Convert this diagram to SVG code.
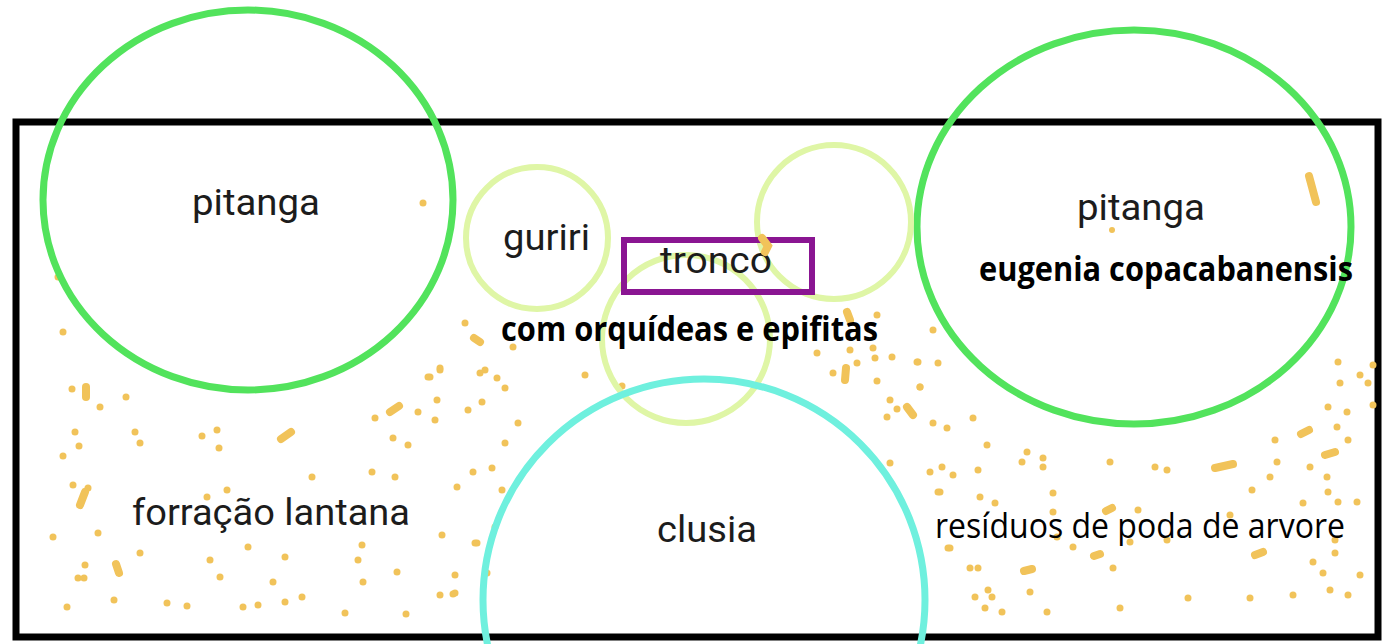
<svg xmlns="http://www.w3.org/2000/svg" width="1388" height="644" viewBox="0 0 1388 644">
<style>
.bed{fill:none;stroke:#000;stroke-width:7}
.pit{fill:none;stroke:#52e35c;stroke-width:7}
.pale{fill:none;stroke:#dff6a6;stroke-width:6}
.clu{fill:none;stroke:#6ff0de;stroke-width:7}
.tr{fill:none;stroke:#8a1592;stroke-width:6}
.lbl{font-family:Roboto,"Liberation Sans",sans-serif;font-size:36px;fill:#1c1c1c}
.cal{font-family:"Open Sans","Liberation Sans",sans-serif;font-size:34px;fill:#000}
.bold{font-family:"Open Sans","Liberation Sans",sans-serif;font-size:34px;font-weight:bold;fill:#000}
.dots circle{fill:#f1c35a}
.dash{stroke:#f1c35a;stroke-width:8;stroke-linecap:round;fill:none}
</style>
<rect x="0" y="0" width="1388" height="644" fill="#fff"/>
<rect id="bed" class="bed" x="16" y="122" width="1362" height="515"/>
<g id="mulch" class="dots">
<circle cx="72" cy="389" r="3.5"/><circle cx="100" cy="407" r="3.5"/><circle cx="126" cy="397" r="3.5"/><circle cx="75" cy="432" r="3.5"/><circle cx="79" cy="446" r="3.5"/><circle cx="63" cy="456" r="3.5"/><circle cx="135" cy="432" r="3.5"/><circle cx="140" cy="443" r="3.5"/><circle cx="202" cy="436" r="3.5"/><circle cx="217" cy="430" r="3.5"/><circle cx="219" cy="448" r="3.5"/><circle cx="375" cy="418" r="3.5"/><circle cx="418" cy="412" r="3.5"/><circle cx="437" cy="400" r="3.5"/><circle cx="435" cy="420" r="3.5"/><circle cx="430" cy="377" r="3.5"/><circle cx="440" cy="370" r="3.5"/><circle cx="393" cy="438" r="3.5"/><circle cx="408" cy="445" r="3.5"/><circle cx="312" cy="477" r="3.5"/><circle cx="372" cy="472" r="3.5"/><circle cx="395" cy="477" r="3.5"/><circle cx="473" cy="472" r="3.5"/><circle cx="457" cy="487" r="3.5"/><circle cx="468" cy="410" r="3.5"/><circle cx="73" cy="485" r="3.5"/><circle cx="88" cy="488" r="3.5"/><circle cx="207" cy="497" r="3.5"/><circle cx="227" cy="490" r="3.5"/><circle cx="53" cy="537" r="3.5"/><circle cx="98" cy="533" r="3.5"/><circle cx="248" cy="547" r="3.5"/><circle cx="285" cy="557" r="3.5"/><circle cx="442" cy="535" r="3.5"/><circle cx="475" cy="543" r="3.5"/><circle cx="140" cy="553" r="3.5"/><circle cx="210" cy="560" r="3.5"/><circle cx="85" cy="565" r="3.5"/><circle cx="78" cy="578" r="3.5"/><circle cx="84" cy="578" r="3.5"/><circle cx="220" cy="577" r="3.5"/><circle cx="273" cy="582" r="3.5"/><circle cx="358" cy="560" r="3.5"/><circle cx="363" cy="582" r="3.5"/><circle cx="397" cy="572" r="3.5"/><circle cx="455" cy="575" r="3.5"/><circle cx="440" cy="595" r="3.5"/><circle cx="453" cy="594" r="3.5"/><circle cx="67" cy="607" r="3.5"/><circle cx="114" cy="600" r="3.5"/><circle cx="167" cy="603" r="3.5"/><circle cx="187" cy="606" r="3.5"/><circle cx="243" cy="607" r="3.5"/><circle cx="258" cy="605" r="3.5"/><circle cx="285" cy="602" r="3.5"/><circle cx="302" cy="597" r="3.5"/><circle cx="345" cy="613" r="3.5"/><circle cx="406" cy="614" r="3.5"/><circle cx="362" cy="545" r="3.5"/>
<circle cx="423" cy="203" r="3.5"/><circle cx="58" cy="277" r="3.5"/><circle cx="63" cy="332" r="3.5"/><circle cx="465" cy="323" r="3.5"/><circle cx="440" cy="368" r="3.5"/><circle cx="428" cy="377" r="3.5"/>
<circle cx="513" cy="347" r="3.5"/><circle cx="480" cy="373" r="3.5"/><circle cx="485" cy="370" r="3.5"/><circle cx="497" cy="378" r="3.5"/><circle cx="505" cy="388" r="3.5"/><circle cx="482" cy="402" r="3.5"/><circle cx="518" cy="423" r="3.5"/><circle cx="505" cy="443" r="3.5"/><circle cx="492" cy="468" r="3.5"/><circle cx="502" cy="490" r="3.5"/><circle cx="495" cy="527" r="3.5"/><circle cx="477" cy="543" r="3.5"/><circle cx="487" cy="573" r="3.5"/><circle cx="455" cy="593" r="3.5"/><circle cx="585" cy="375" r="3.5"/><circle cx="622" cy="386" r="3.5"/>
<circle cx="877" cy="315" r="3.5"/><circle cx="817" cy="353" r="3.5"/><circle cx="850" cy="350" r="3.5"/><circle cx="873" cy="348" r="3.5"/><circle cx="875" cy="358" r="3.5"/><circle cx="892" cy="357" r="3.5"/><circle cx="917" cy="362" r="3.5"/><circle cx="933" cy="330" r="3.5"/><circle cx="857" cy="363" r="3.5"/><circle cx="833" cy="373" r="3.5"/><circle cx="877" cy="381" r="3.5"/><circle cx="920" cy="387" r="3.5"/><circle cx="890" cy="400" r="3.5"/><circle cx="897" cy="409" r="3.5"/><circle cx="887" cy="417" r="3.5"/><circle cx="933" cy="423" r="3.5"/><circle cx="947" cy="428" r="3.5"/><circle cx="890" cy="463" r="3.5"/><circle cx="930" cy="472" r="3.5"/><circle cx="942" cy="467" r="3.5"/><circle cx="940" cy="492" r="3.5"/><circle cx="948" cy="548" r="3.5"/>
<circle cx="938" cy="363" r="3.5"/><circle cx="973" cy="418" r="3.5"/><circle cx="987" cy="445" r="3.5"/><circle cx="1027" cy="452" r="3.5"/><circle cx="1022" cy="462" r="3.5"/><circle cx="1043" cy="458" r="3.5"/><circle cx="1043" cy="467" r="3.5"/><circle cx="953" cy="475" r="3.5"/><circle cx="978" cy="470" r="3.5"/><circle cx="938" cy="492" r="3.5"/><circle cx="980" cy="497" r="3.5"/><circle cx="995" cy="503" r="3.5"/><circle cx="1053" cy="493" r="3.5"/><circle cx="1053" cy="512" r="3.5"/><circle cx="1110" cy="462" r="3.5"/><circle cx="1155" cy="467" r="3.5"/><circle cx="1167" cy="470" r="3.5"/><circle cx="1252" cy="490" r="3.5"/><circle cx="1275" cy="440" r="3.5"/><circle cx="1277" cy="462" r="3.5"/><circle cx="1270" cy="477" r="3.5"/><circle cx="1310" cy="467" r="3.5"/><circle cx="1327" cy="477" r="3.5"/><circle cx="1328" cy="407" r="3.5"/><circle cx="1347" cy="412" r="3.5"/><circle cx="1337" cy="427" r="3.5"/><circle cx="1348" cy="440" r="3.5"/><circle cx="1340" cy="383" r="3.5"/><circle cx="1338" cy="362" r="3.5"/><circle cx="1360" cy="375" r="3.5"/><circle cx="1368" cy="383" r="3.5"/><circle cx="1373" cy="405" r="3.5"/><circle cx="1373" cy="365" r="3.5"/><circle cx="1303" cy="503" r="3.5"/><circle cx="1328" cy="492" r="3.5"/><circle cx="1338" cy="502" r="3.5"/><circle cx="1357" cy="502" r="3.5"/><circle cx="1138" cy="510" r="3.5"/><circle cx="1230" cy="515" r="3.5"/><circle cx="1335" cy="540" r="3.5"/><circle cx="1335" cy="553" r="3.5"/><circle cx="1313" cy="562" r="3.5"/><circle cx="1323" cy="573" r="3.5"/><circle cx="1360" cy="575" r="3.5"/><circle cx="1330" cy="590" r="3.5"/><circle cx="1348" cy="595" r="3.5"/><circle cx="950" cy="548" r="3.5"/><circle cx="970" cy="568" r="3.5"/><circle cx="978" cy="568" r="3.5"/><circle cx="1030" cy="592" r="3.5"/><circle cx="988" cy="590" r="3.5"/><circle cx="992" cy="597" r="3.5"/><circle cx="975" cy="597" r="3.5"/><circle cx="985" cy="608" r="3.5"/><circle cx="1002" cy="612" r="3.5"/><circle cx="1047" cy="612" r="3.5"/><circle cx="1073" cy="547" r="3.5"/><circle cx="1113" cy="568" r="3.5"/><circle cx="1120" cy="608" r="3.5"/><circle cx="1188" cy="598" r="3.5"/><circle cx="1250" cy="598" r="3.5"/><circle cx="1293" cy="595" r="3.5"/><circle cx="1130" cy="542" r="3.5"/><circle cx="1167" cy="540" r="3.5"/><circle cx="1057" cy="537" r="3.5"/><circle cx="1112" cy="230" r="3"/><circle cx="918" cy="362" r="3.5"/><circle cx="920" cy="387" r="3.5"/>
</g>
<g id="mulch-bits" class="dash">
<path d="M86 387 L86 397"/><path d="M281 439 L291 432"/><path d="M390 412 L399 406"/><path d="M80 505 L85 492"/><path d="M116 564 L119 573"/><path d="M474 338 L480 342"/><path d="M847 312 L850 320"/><path d="M846 368 L845 380"/><path d="M907 407 L913 415"/><path d="M1215 468 L1233 464"/><path d="M1301 434 L1309 430"/><path d="M1325 455 L1335 452"/><path d="M1106 511 L1112 508"/><path d="M1255 555 L1263 552"/><path d="M1024 571 L1032 569"/><path d="M1094 556 L1100 554"/><path d="M1309 176 L1316 202"/>
</g>
<g id="pitanga-left"><ellipse class="pit" cx="248" cy="200" rx="205" ry="190"/><text class="lbl" x="192" y="215" textLength="128" lengthAdjust="spacingAndGlyphs">pitanga</text></g>
<g id="pitanga-right"><ellipse class="pit" cx="1134" cy="227" rx="217" ry="197"/><text class="lbl" x="1077" y="220" textLength="128" lengthAdjust="spacingAndGlyphs">pitanga</text><text class="bold" x="979" y="281" textLength="374" lengthAdjust="spacingAndGlyphs">eugenia copacabanensis</text></g>
<g id="guriri"><circle class="pale" cx="537" cy="238" r="71"/><text class="lbl" x="503" y="250" textLength="87" lengthAdjust="spacingAndGlyphs">guriri</text></g>
<g id="epifita-right"><circle class="pale" cx="834" cy="222" r="77"/></g>
<g id="epifita-center"><circle class="pale" cx="686" cy="339" r="84"/></g>
<g id="clusia"><circle class="clu" cx="704" cy="600" r="221"/><text class="lbl" x="657" y="542" textLength="100" lengthAdjust="spacingAndGlyphs">clusia</text></g>
<g id="tronco"><rect class="tr" x="624" y="240" width="188" height="52"/><text class="lbl" x="660" y="273" textLength="112" lengthAdjust="spacingAndGlyphs">tronco</text><path class="dash" d="M762 238 L768 246 L765 252"/></g>
<g id="epifitas-label"><text class="bold" x="501" y="341" textLength="377" lengthAdjust="spacingAndGlyphs">com orquídeas e epifitas</text></g>
<g id="lantana"><text class="lbl" x="132" y="525" textLength="278" lengthAdjust="spacingAndGlyphs">forração lantana</text></g>
<g id="residuos"><text class="cal" x="935" y="538" textLength="410" lengthAdjust="spacingAndGlyphs">resíduos de poda de arvore</text></g>
<g id="connectors"></g>
</svg>
